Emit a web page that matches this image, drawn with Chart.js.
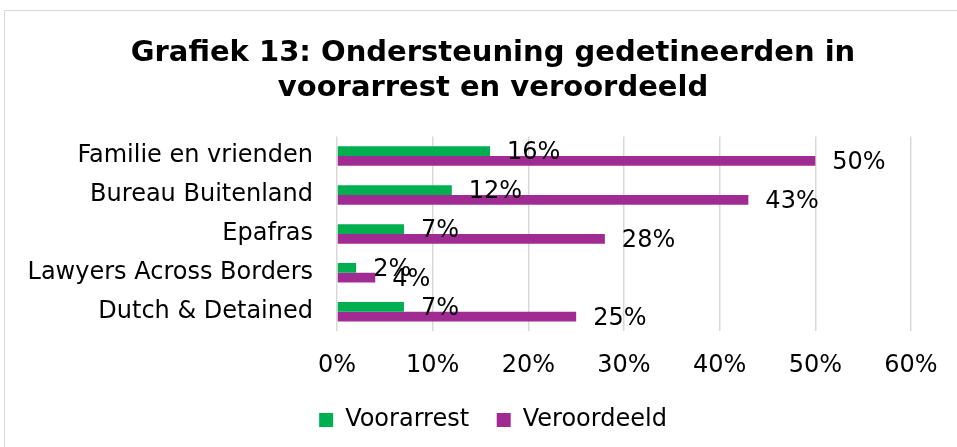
<!DOCTYPE html>
<html>
<head>
<meta charset="utf-8">
<script src="https://cdn.jsdelivr.net/npm/chart.js@4.4.1/dist/chart.umd.min.js"></script>
<style>
  html, body { margin: 0; padding: 0; background: #fff; overflow: hidden; }
  body { width: 957px; height: 447px; position: relative; }
  #frame {
    position: absolute; left: 4px; top: 10px;
    width: 976px; height: 445px;
    border: 1px solid #d9d9d9; box-sizing: border-box;
  }
  #frame canvas { position: absolute; left: 0; top: 0; }
</style>
</head>
<body>
<div id="frame"><canvas id="chart" width="976" height="445"></canvas></div>
<script>
// ====================== Data ======================
const categories = [
  "Familie en vrienden",
  "Bureau Buitenland",
  "Epafras",
  "Lawyers Across Borders",
  "Dutch & Detained"
];
const voorarrest = [16, 12, 7, 2, 7];
const veroordeeld = [50, 43, 28, 4, 25];
const xTicks = [0, 10, 20, 30, 40, 50, 60];

const FONT = "Verdana, 'DejaVu Sans', sans-serif";

// ====================== Value labels ======================
const valueLabels = {
  id: "valueLabels",
  afterDatasetsDraw(chart) {
    const ctx = chart.ctx;
    ctx.save();
    ctx.font = "24px " + FONT;
    ctx.fillStyle = "#000";
    ctx.textAlign = "left";
    ctx.textBaseline = "middle";
    chart.data.datasets.forEach((ds, di) => {
      chart.getDatasetMeta(di).data.forEach((bar, i) => {
        ctx.fillText(ds.data[i] + "%", bar.x + 17, bar.y + 2);
      });
    });
    ctx.restore();
  }
};

// ====================== Chart ======================
new Chart(document.getElementById("chart"), {
  type: "bar",
  data: {
    labels: categories,
    datasets: [
      { label: "Voorarrest", data: voorarrest, backgroundColor: "#00b050" },
      { label: "Veroordeeld", data: veroordeeld, backgroundColor: "#a02b93" }
    ]
  },
  options: {
    indexAxis: "y",
    responsive: false,
    animation: false,
    categoryPercentage: 0.5,
    barPercentage: 1.0,
    layout: { padding: { left: 0, right: 0, top: 0, bottom: 14 } },
    plugins: {
      tooltip: { enabled: false },
      title: {
        display: true,
        text: ["Grafiek 13: Ondersteuning gedetineerden in", "voorarrest en veroordeeld"],
        color: "#000",
        font: { family: FONT, size: 29, weight: "bold", lineHeight: 1.2 },
        padding: { top: 25, bottom: 31 }
      },
      legend: {
        position: "bottom",
        labels: {
          color: "#000",
          font: { family: FONT, size: 24 },
          boxWidth: 14,
          boxHeight: 14,
          padding: 8,
          // a little extra room after the first entry, like the original
          generateLabels: chart =>
            Chart.defaults.plugins.legend.labels.generateLabels(chart)
              .map((l, i) => i === 0 ? { ...l, text: l.text + "\u2002\u00a0" } : l)
        }
      }
    },
    scales: {
      x: {
        min: 0,
        max: 60,
        afterBuildTicks: s => { s.ticks = xTicks.map(v => ({ value: v })); },
        ticks: {
          color: "#000",
          font: { family: FONT, size: 24 },
          padding: 20,
          callback: v => v + "%"
        },
        grid: { color: "#d9d9d9", lineWidth: 1.5, drawTicks: false },
        border: { display: false }
      },
      y: {
        afterFit: s => { s.width = 332; },
        ticks: {
          color: "#000",
          font: { family: FONT, size: 24 },
          padding: 24
        },
        grid: { display: false, drawTicks: false },
        border: { display: false }
      },
      // empty right-hand spacer so the legend stays centred on the whole frame
      yRight: {
        axis: "y",
        type: "category",
        position: "right",
        afterFit: s => { s.width = 70; },
        ticks: { display: false },
        grid: { display: false, drawTicks: false },
        border: { display: false }
      }
    }
  },
  plugins: [valueLabels]
});
</script>
</body>
</html>
